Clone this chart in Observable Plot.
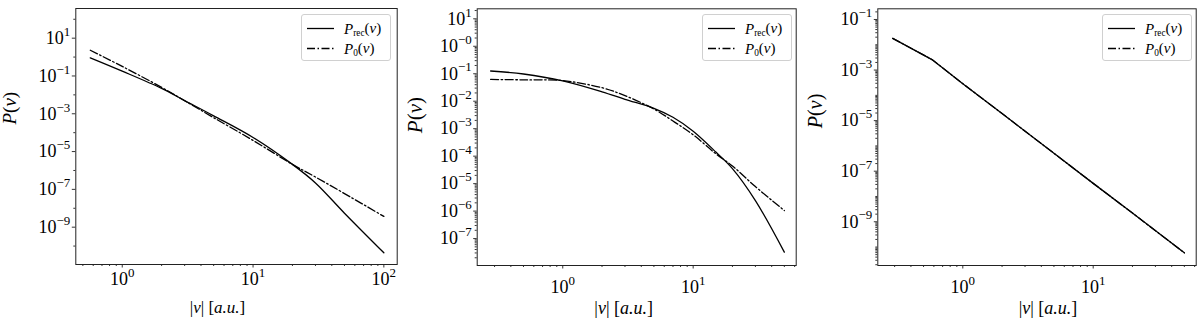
<!DOCTYPE html>
<html>
<head>
<meta charset="utf-8">
<script src="https://cdn.jsdelivr.net/npm/d3@7"></script>
<script src="https://cdn.jsdelivr.net/npm/@observablehq/plot@0.6"></script>
<style>
  body { margin: 0; background: #fff; }
  #wrap { position: relative; width: 1200px; height: 324px; font-family: "Liberation Serif", "DejaVu Serif", serif; }
  .panel { position: absolute; top: 0; }
  .legend { position: absolute; box-sizing: border-box; border: 1px solid #d0d0d0; border-radius: 3px; background: rgba(255,255,255,0.8); }
  .legend svg { display: block; }
</style>
</head>
<body>
<div id="wrap"></div>
<script>
// ---------- data ----------
const seriesNames = ["P_rec(ν)", "P_0(ν)"];
const xLabel = "|ν| [a.u.]";
const yLabel = "P(ν)";

// panel 1
const nu1   = [0.57, 1, 2, 3, 5, 10, 20, 30, 50, 100];
const pRec1 = [9.1e-1, 1.8e-1, 2.2e-2, 5.0e-3, 7.8e-4, 5.6e-5, 2.1e-6, 2.2e-7, 5.5e-9, 4.4e-11];
const p01   = [2.3, 3.2e-1, 2.5e-2, 4.9e-3, 6.2e-4, 3.9e-5, 2.1e-6, 4.5e-7, 6.0e-8, 3.7e-9];

// panel 2
const nu2   = [0.28, 0.5, 1, 2, 3, 5, 7, 10, 15, 20, 30, 50];
const pRec2 = [1.26e-1, 9.8e-2, 5.5e-2, 2.2e-2, 1.17e-2, 5.5e-3, 2.6e-3, 8.1e-4, 1.38e-4, 3.5e-5, 2.4e-6, 3.2e-8];
const p02   = [6.2e-2, 6.0e-2, 5.6e-2, 3.1e-2, 1.6e-2, 5.2e-3, 1.9e-3, 6.0e-4, 1.2e-4, 4.4e-5, 7.8e-6, 1.05e-6];

// panel 3 (P0 coincides with P_rec)
const nu3   = [0.29, 0.58, 1, 2, 5, 10, 20, 50];
const pRec3 = [1.8e-2, 2.6e-3, 2.9e-4, 1.9e-5, 5.1e-7, 3.3e-8, 2.2e-9, 5.9e-11];
const p03   = [1.8e-2, 2.6e-3, 2.9e-4, 1.9e-5, 5.1e-7, 3.3e-8, 2.2e-9, 5.9e-11];

// ticks
const xTicks1 = [1, 10, 100];             const xTickExp1 = ["0", "1", "2"];
const yTicks1 = [1e1, 1e-1, 1e-3, 1e-5, 1e-7, 1e-9];
const yTickExp1 = ["1", "−1", "−3", "−5", "−7", "−9"];
const xTicks2 = [1, 10];                  const xTickExp2 = ["0", "1"];
const yTicks2 = [1e1, 1e0, 1e-1, 1e-2, 1e-3, 1e-4, 1e-5, 1e-6, 1e-7];
const yTickExp2 = ["1", "−0", "−1", "−2", "−3", "−4", "−5", "−6", "−7"];
const xTicks3 = [1, 10];                  const xTickExp3 = ["0", "1"];
const yTicks3 = [1e-1, 1e-3, 1e-5, 1e-7, 1e-9];
const yTickExp3 = ["−1", "−3", "−5", "−7", "−9"];

// ---------- helpers ----------
function minorTicks(lo, hi, subs, majors) {
  const out = [];
  for (let e = Math.floor(Math.log10(lo)) - 1; e <= Math.ceil(Math.log10(hi)); e++) {
    for (const m of subs) {
      const v = m * Math.pow(10, e);
      if (v >= lo && v <= hi && !majors.some(t => Math.abs(t / v - 1) < 1e-9)) out.push(v);
    }
  }
  return out;
}
function rows(xs, ys) { return xs.map((x, i) => ({nu: x, p: ys[i]})); }
function expFormat(ticks, exps) {
  return d => { const i = ticks.findIndex(t => Math.abs(t / d - 1) < 1e-9); return i < 0 ? "" : "10^" + exps[i]; };
}
function richText(el, parts) {
  const s = d3.select(el);
  s.text(null);
  for (const p of parts) {
    const t = s.append("tspan").text(p.t);
    if (p.i) t.attr("font-style", "italic");
    if (p.fs) t.attr("font-size", p.fs);
    if (p.dy) t.attr("dy", p.dy);
  }
}

function makePanel(cfg) {
  const ticksX = cfg.xTicks, ticksY = cfg.yTicks;
  const xMinor = minorTicks(cfg.xdom[0], cfg.xdom[1], [2,3,4,5,6,7,8,9], ticksX);
  const yMinor = minorTicks(cfg.ydom[0], cfg.ydom[1], cfg.ySubs, ticksY);
  const rec = rows(cfg.nu, cfg.rec), p0 = rows(cfg.nu, cfg.p0);
  const svg = Plot.plot({
    width: 400, height: 324,
    marginLeft: cfg.ml, marginRight: cfg.mr, marginTop: cfg.mt, marginBottom: cfg.mb,
    style: {fontFamily: '"Liberation Serif", "DejaVu Serif", serif', fontSize: "18px", color: "#000", background: "transparent", overflow: "visible"},
    x: {type: "log", domain: cfg.xdom},
    y: {type: "log", domain: cfg.ydom},
    marks: [
      Plot.axisX({ticks: xMinor, tickSize: 2, tickFormat: () => "", label: null, strokeWidth: 0.8}),
      Plot.axisX({ticks: ticksX, tickSize: 3.5, tickPadding: cfg.xPad, tickFormat: expFormat(ticksX, cfg.xExp), label: null, strokeWidth: 0.8}),
      Plot.axisY({ticks: yMinor, tickSize: 2, tickFormat: () => "", label: null, strokeWidth: 0.8}),
      Plot.axisY({ticks: ticksY, tickSize: 3.5, tickPadding: 2, tickFormat: expFormat(ticksY, cfg.yExp), label: null, strokeWidth: 0.8}),
      Plot.line(p0, {x: "nu", y: "p", stroke: "#000", strokeWidth: 1.3, strokeDasharray: "8,2.5,1.5,2.5", curve: cfg.curve}),
      Plot.line(rec, {x: "nu", y: "p", stroke: "#000", strokeWidth: 1.3, curve: cfg.curve}),
      Plot.frame({stroke: "#222", strokeWidth: 1}),
      Plot.text([yLabel], {text: d => d, frameAnchor: "left", rotate: -90, dx: cfg.yLabDx, dy: cfg.yLabDy, fontSize: cfg.yLabFs}),
      Plot.text([xLabel], {text: d => d, frameAnchor: "bottom", dx: cfg.xLabDx, dy: cfg.xLabDy, fontSize: cfg.xLabFs})
    ]
  });
  d3.select(svg).selectAll("text").each(function () {
    const t = this.textContent;
    if (t.startsWith("10^")) {
      richText(this, [{t: "10"}, {t: t.slice(3), fs: "0.72em", dy: "-0.62em"}]);
    } else if (t === yLabel) {
      richText(this, [{t: "P", i: 1}, {t: "("}, {t: "ν", i: 1}, {t: ")"}]);
    } else if (t === xLabel) {
      richText(this, [{t: "|"}, {t: "ν", i: 1}, {t: "| ["}, {t: "a.u.", i: 1}, {t: "]"}]);
    }
  });

  const div = document.createElement("div");
  div.className = "panel";
  div.style.left = cfg.left + "px";
  div.appendChild(svg);
  document.getElementById("wrap").appendChild(div);

  // legend (upper right, inside the axes)
  const lg = document.createElement("div");
  lg.className = "legend";
  lg.style.left = cfg.legLeft + "px";
  lg.style.top = "14px";
  lg.style.width = "90px";
  lg.style.height = "47px";
  document.getElementById("wrap").appendChild(lg);
  const ls = d3.select(lg).append("svg").attr("width", 88).attr("height", 45)
    .style("font-family", '"Liberation Serif", "DejaVu Serif", serif').style("font-size", "15px");
  const dashes = [null, "8,2.5,1.5,2.5"];
  seriesNames.forEach((name, i) => {
    const y = 13.5 + i * 20;
    ls.append("line").attr("x1", 5).attr("x2", 32).attr("y1", y).attr("y2", y)
      .attr("stroke", "#000").attr("stroke-width", 1.3).attr("stroke-dasharray", dashes[i]);
    const tx = ls.append("text").attr("x", 42).attr("y", y + 5).node();
    const [base, rest] = name.split("_");
    const sub = rest.slice(0, rest.indexOf("("));
    richText(tx, [{t: base, i: 1}, {t: sub, fs: "0.62em", dy: "0.3em"}, {t: "(", dy: "-0.19em"}, {t: "ν", i: 1}, {t: ")"}]);
  });
}

makePanel({
  left: 0, ml: 75.3, mr: 3.3, mt: 8, mb: 60, curve: "catmull-rom",
  xdom: [Math.pow(10, -0.355), Math.pow(10, 2.102)], ydom: [Math.pow(10, -10.975), Math.pow(10, 2.57)],
  xTicks: xTicks1, xExp: xTickExp1, yTicks: yTicks1, yExp: yTickExp1, ySubs: [1],
  nu: nu1, rec: pRec1, p0: p01, xPad: 4,
  yLabDx: -66, yLabDy: -12, yLabFs: 19, xLabDx: -19, xLabDy: 48, xLabFs: 17, legLeft: 301
});
makePanel({
  left: 400, ml: 76.7, mr: 4.3, mt: 8.3, mb: 59, curve: "catmull-rom",
  xdom: [Math.pow(10, -0.656), Math.pow(10, 1.79)], ydom: [Math.pow(10, -7.98), Math.pow(10, 1.364)],
  xTicks: xTicks2, xExp: xTickExp2, yTicks: yTicks2, yExp: yTickExp2, ySubs: [2,3,4,5,6,7,8,9],
  nu: nu2, rec: pRec2, p0: p02, xPad: 11,
  yLabDx: -62, yLabDy: -4, yLabFs: 21, xLabDx: -13, xLabDy: 48, xLabFs: 18, legLeft: 701.7
});
makePanel({
  left: 800, ml: 77.3, mr: 4.3, mt: 8.3, mb: 59, curve: "linear",
  xdom: [Math.pow(10, -0.652), Math.pow(10, 1.79)], ydom: [Math.pow(10, -10.73), Math.pow(10, -0.577)],
  xTicks: xTicks3, xExp: xTickExp3, yTicks: yTicks3, yExp: yTickExp3, ySubs: [1,2,3,4,5,6,7,8,9],
  nu: nu3, rec: pRec3, p0: p03, xPad: 11,
  yLabDx: -62, yLabDy: -9, yLabFs: 20, xLabDx: 11, xLabDy: 48, xLabFs: 18, legLeft: 1102
});
</script>
</body>
</html>
